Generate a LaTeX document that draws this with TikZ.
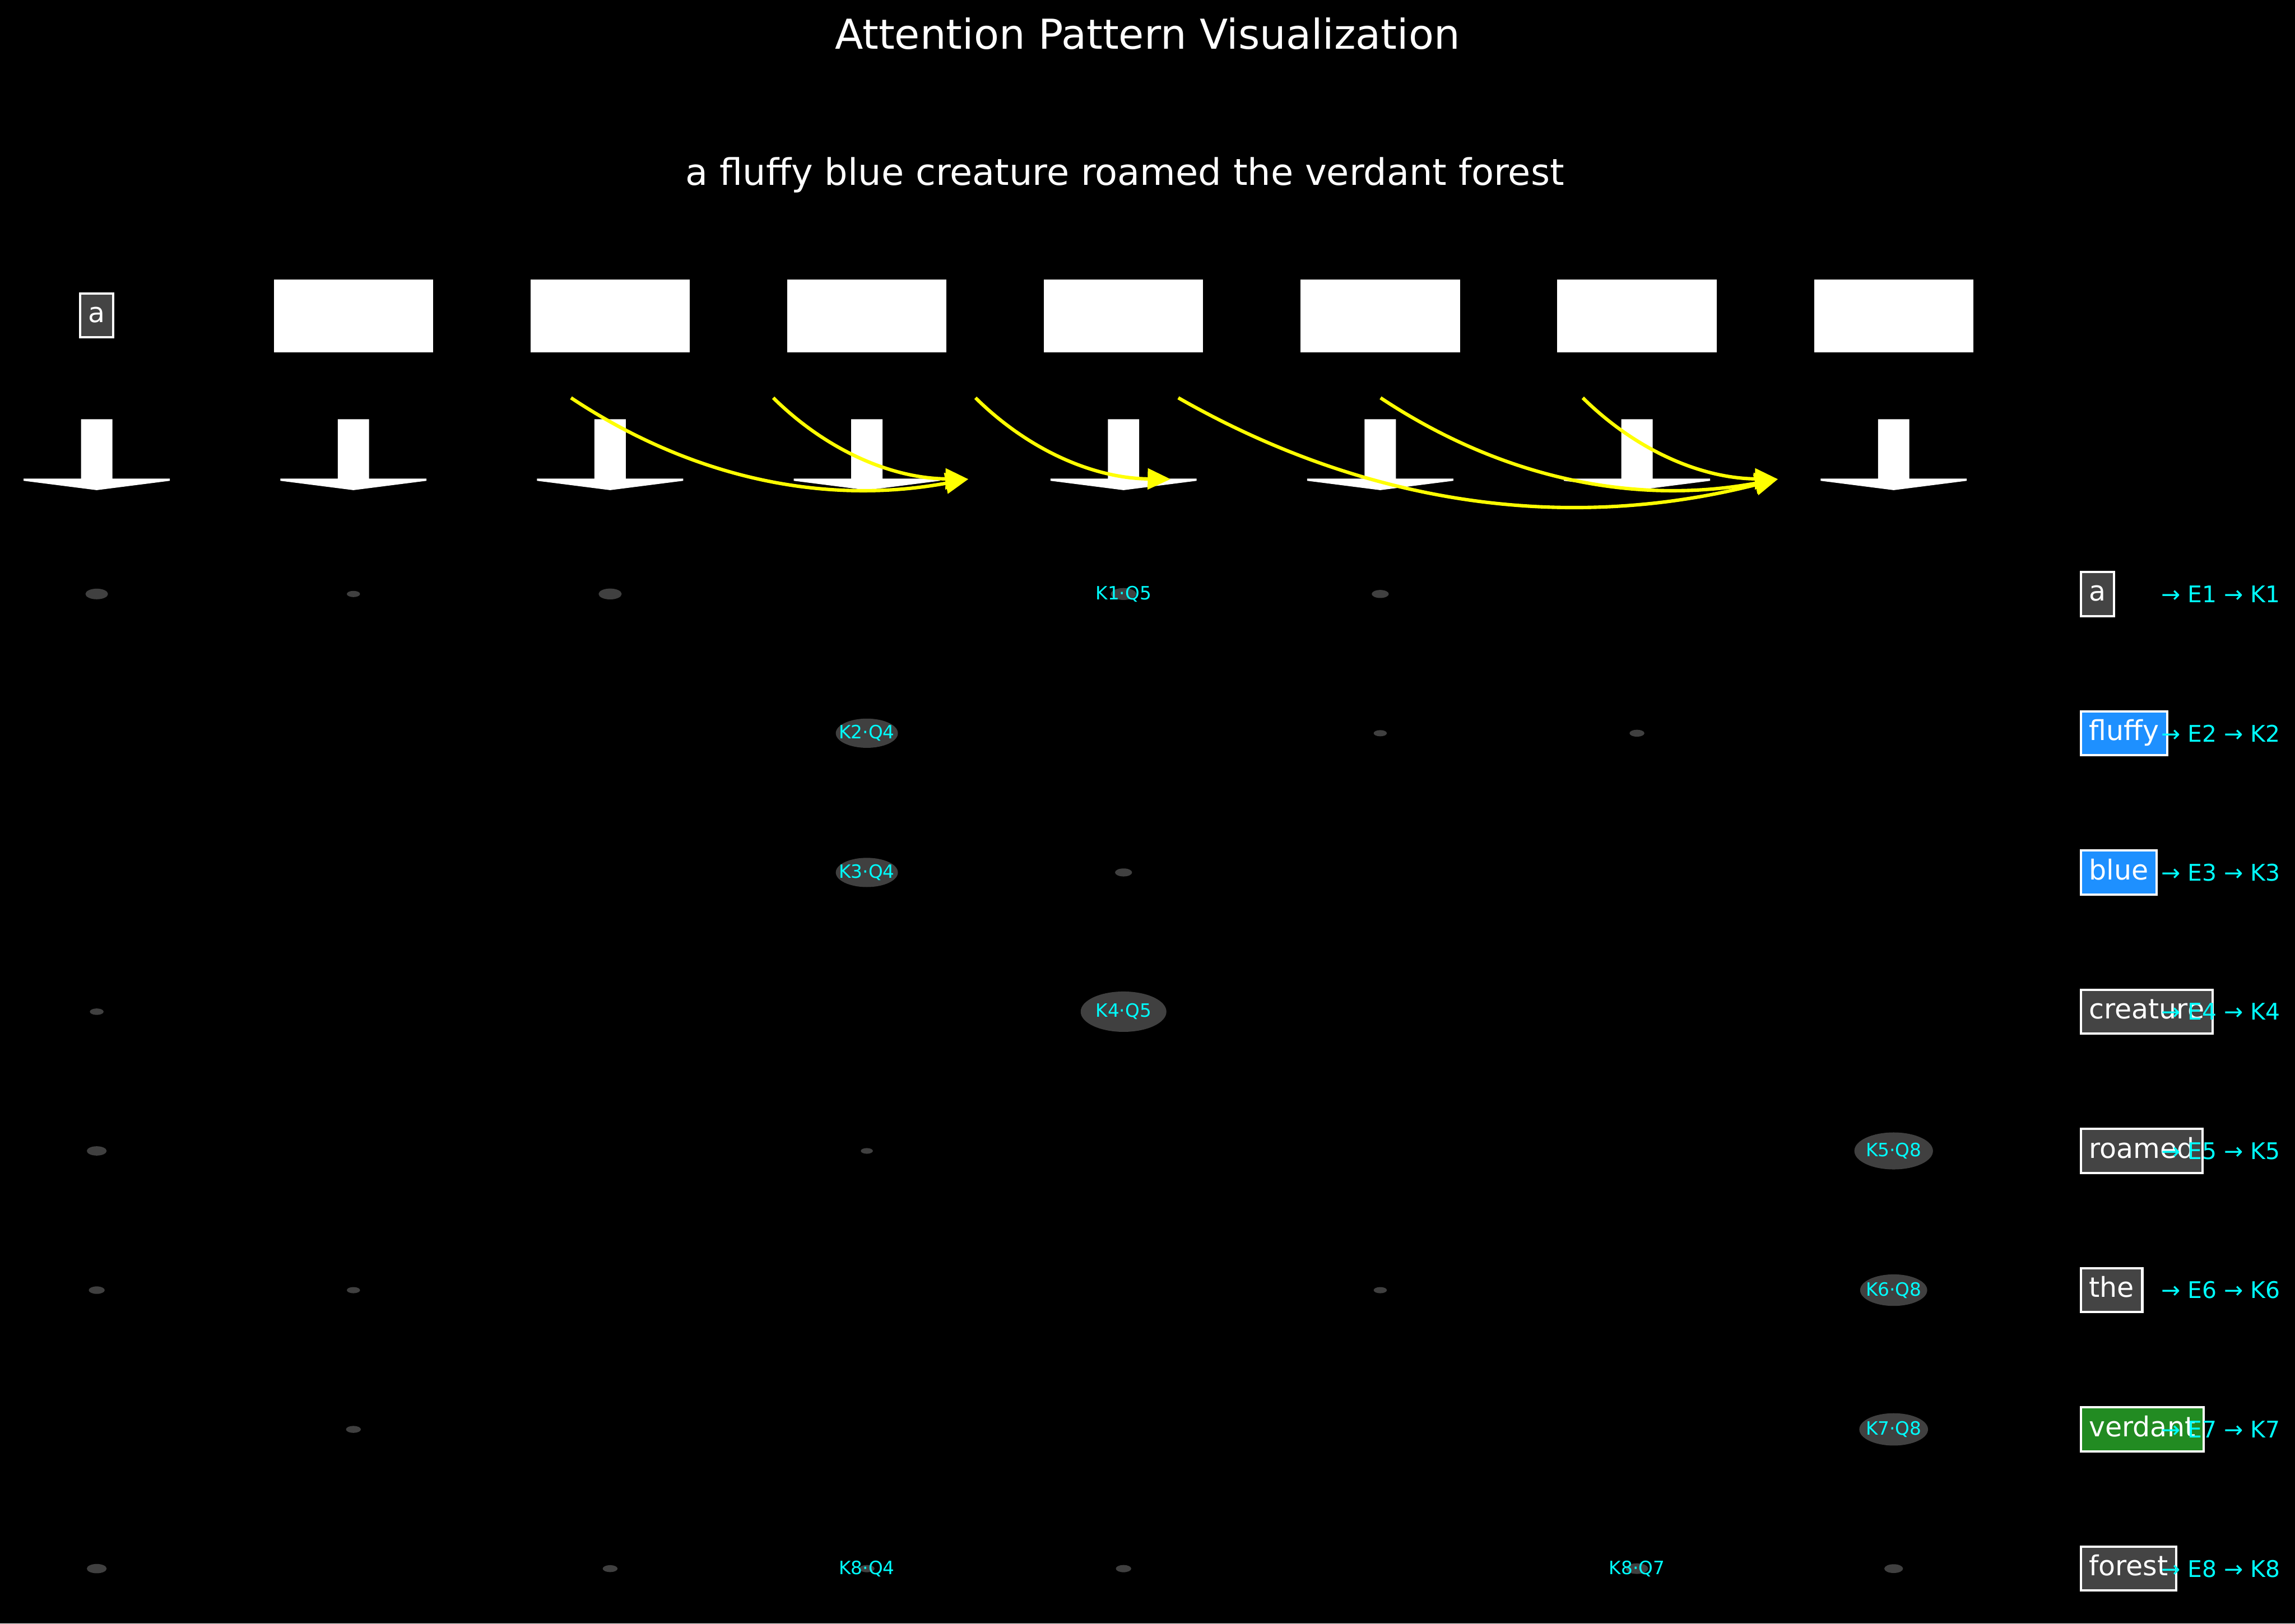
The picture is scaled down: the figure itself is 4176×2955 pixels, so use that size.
\documentclass[tikz,border=0pt]{standalone}
\usepackage{fontspec}
\setmainfont{DejaVu Sans}
\usetikzlibrary{arrows.meta}
\usetikzlibrary{shapes.geometric}

\definecolor{attgray}{RGB}{64,64,64}
\definecolor{boxgray}{RGB}{68,68,68}
\definecolor{dodger}{RGB}{30,144,255}
\definecolor{forest}{RGB}{34,139,34}
\definecolor{aqua}{RGB}{0,255,255}
\definecolor{flowyellow}{RGB}{255,255,0}

\begin{document}
\begin{tikzpicture}[
        x=0.24pt, y=0.24pt,
        word/.style={
            draw=white,
            line width=1pt,
            fill=boxgray,
            text=white,
            font=\fontsize{12}{14}\selectfont,
            inner xsep=3.6pt,
            inner ysep=3.6pt,
            text height=9.1pt,
            text depth=2.9pt
        },
        topbox/.style={
            fill=white,
            minimum width=69.6pt,
            minimum height=31.9pt,
            inner sep=0pt
        },
        attn/.style={
            ellipse,
            fill=attgray,
            minimum width=#1*0.24pt,
            minimum height=#1*0.113pt,
            inner sep=0pt
        },
        qk/.style={text=aqua, font=\fontsize{8}{9}\selectfont, inner sep=0pt},
        chain/.style={text=aqua, font=\fontsize{10}{12}\selectfont, anchor=west, inner sep=0pt},
        flow/.style={-{Triangle[length=10pt,width=9pt]}, flowyellow, line width=1.5pt, bend right=22, looseness=0.92}
    ]
        \path[use as bounding box, fill=black] (0,0) rectangle (4176,-2955);

        \node[font=\fontsize{18}{22}\selectfont, text=white] (title) at (2088,-61) {Attention Pattern Visualization};
        \node[font=\fontsize{16}{19}\selectfont, text=white] (sentence) at (2047,-319) {a fluffy blue creature roamed the verdant forest};

        % token boxes on top
        \node[word] (topa) at (176,-574) {a};
        \foreach \c in {2,...,8}
            \node[topbox] (top\c) at ({176+467.1*(\c-1)},-575) {};

        % down arrows
        \foreach \c in {1,...,8} {
            \pgfmathsetmacro\cx{176+467.1*(\c-1)}
            \fill[white] (\cx-28.5,-763) -- (\cx+28.5,-763) -- (\cx+28.5,-871) -- (\cx+133,-871)
                -- (\cx+133,-875) -- (\cx,-892) -- (\cx-133,-875) -- (\cx-133,-871) -- (\cx-28.5,-871) -- cycle;
        }

        % attention flows
        \coordinate (src1) at (1039,-724);
        \coordinate (src2) at (1407,-724);
        \coordinate (src3) at (1775,-724);
        \coordinate (src4) at (2144,-724);
        \coordinate (src5) at (2512,-724);
        \coordinate (src6) at (2880,-724);
        \coordinate (dst1) at (1762,-872);
        \coordinate (dst2) at (2130,-872);
        \coordinate (dst3) at (3235,-872);

        \draw[flow] (src1) to (dst1);
        \draw[flow] (src2) to (dst1);
        \draw[flow] (src3) to (dst2);
        \draw[flow] (src4) to (dst3);
        \draw[flow] (src5) to (dst3);
        \draw[flow] (src6) to (dst3);

        % attention weights
        \foreach \c/\r/\w in {1/1/41, 2/1/24, 3/1/42, 5/1/46, 6/1/31,
                4/2/113, 6/2/24, 7/2/27,
                4/3/113, 5/3/31,
                1/4/25, 5/4/156,
                1/5/36, 4/5/22, 8/5/143,
                1/6/29, 2/6/24, 6/6/24, 8/6/122,
                2/7/27, 8/7/125,
                1/8/36, 3/8/27, 4/8/28, 5/8/28, 7/8/41, 8/8/34}
            \node[attn=\w] (att\c\r) at ({176+467.1*(\c-1)},{-1081-253.4*(\r-1)}) {};

        \foreach \c/\r/\t in {5/1/K1·Q5, 4/2/K2·Q4, 4/3/K3·Q4, 5/4/K4·Q5, 8/5/K5·Q8,
                8/6/K6·Q8, 8/7/K7·Q8, 4/8/K8·Q4, 7/8/K8·Q7}
            \node[qk] at (att\c\r) {\t};

        % words with their chains
        \foreach \r/\t/\f in {1/a/boxgray, 2/fluffy/dodger, 3/blue/dodger, 4/creature/boxgray,
                5/roamed/boxgray, 6/the/boxgray, 7/verdant/forest, 8/forest/boxgray} {
            \node[word, fill=\f, anchor=west] (word\r) at (3784,{-1081-253.4*(\r-1)}) {\t};
            \node[chain] (chain\r) at (3932,{-1081-253.4*(\r-1)}) {→ E\r{} → K\r};
        }
    \end{tikzpicture}
\end{document}
